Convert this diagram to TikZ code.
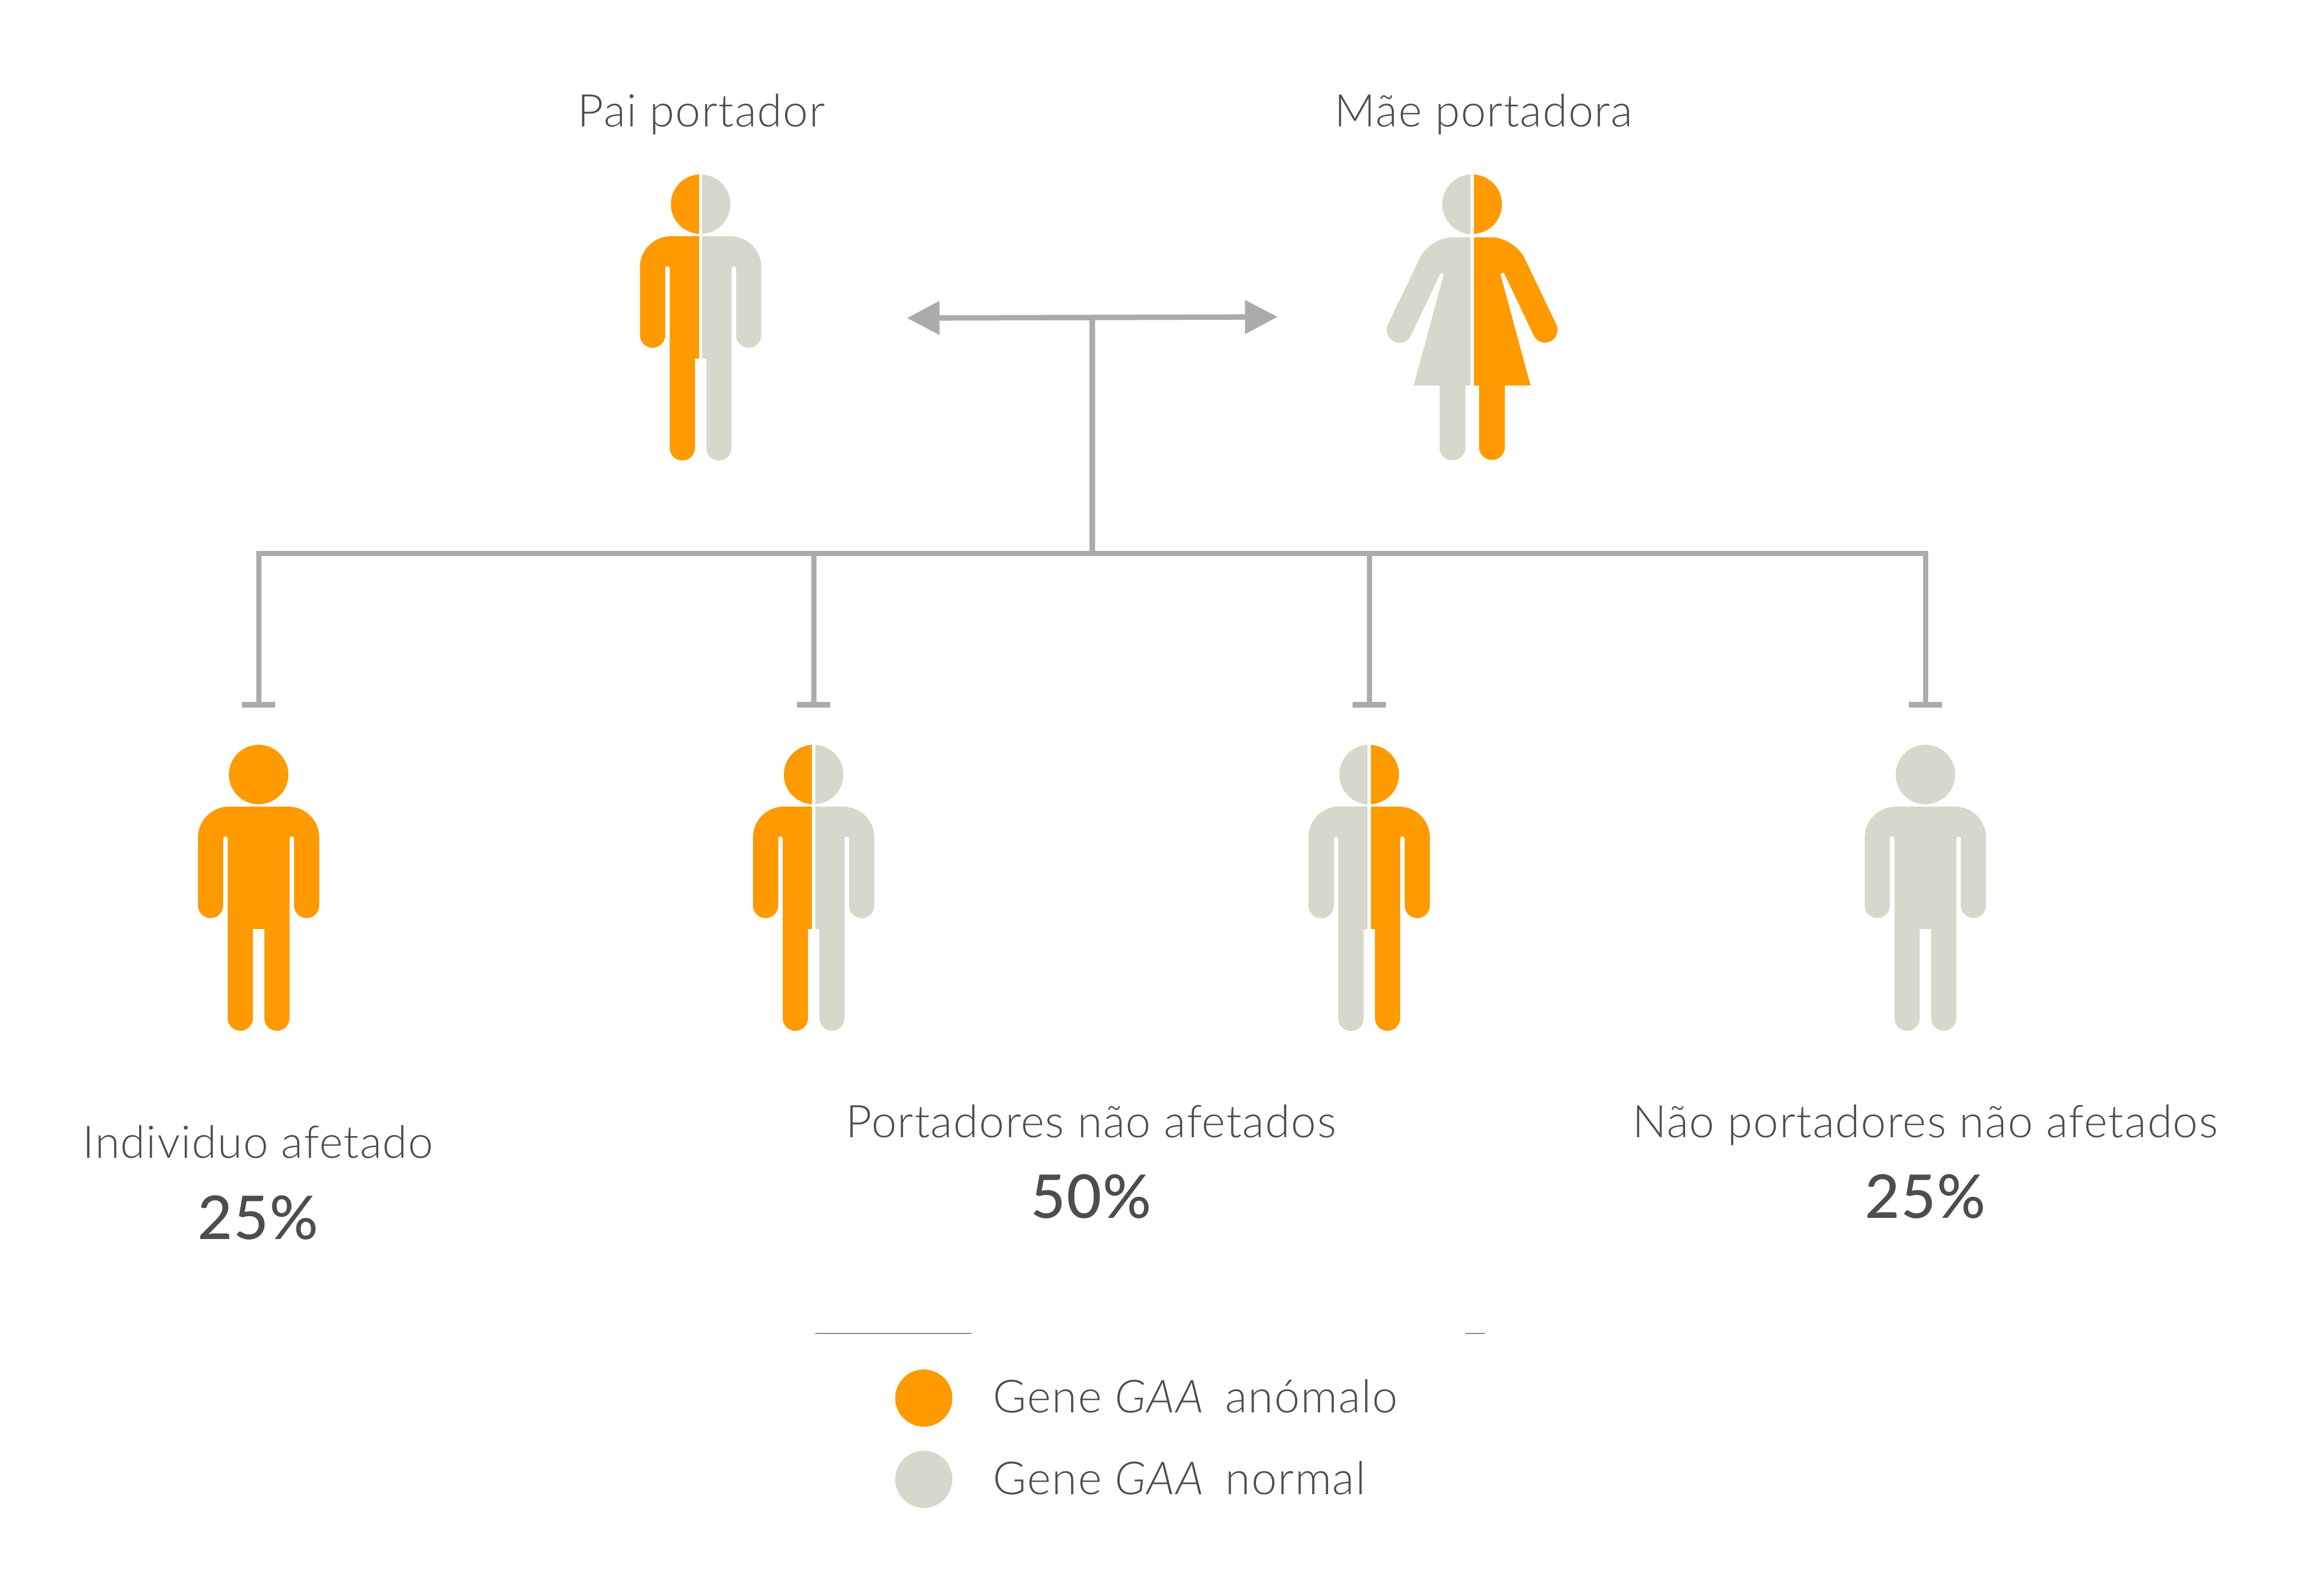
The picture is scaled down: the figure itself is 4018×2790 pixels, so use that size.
\documentclass[tikz,border=0pt]{standalone}
\usepackage{fontspec}
\setmainfont{Lato}[UprightFont=* Light,ItalicFont=* Light Italic,BoldFont=* Medium,LetterSpace=2]
\usetikzlibrary{arrows.meta,calc}

\definecolor{laranja}{HTML}{FF9A00}
\definecolor{bege}{HTML}{D8D7CC}
\definecolor{traco}{HTML}{ABABAB}
\definecolor{texto}{HTML}{4D4D4D}

\newcommand\manpath{(0,52) circle[radius=52]
	(0,108) [rounded corners=5.4mm] -- (106,108) [rounded corners=2.2mm] -- (106,303) -- (62,303) [rounded corners=.4mm] -- (62,160) -- (54,160) [rounded corners=2.2mm] -- (54,500) -- (10,500) [sharp corners] -- (10,322) -- (-10,322) [rounded corners=2.2mm] -- (-10,500) -- (-54,500) [rounded corners=.4mm] -- (-54,160) -- (-62,160) [rounded corners=2.2mm] -- (-62,303) -- (-106,303) [rounded corners=5.4mm] -- (-106,108) [sharp corners] -- (0,108) -- cycle}
\newcommand\womanpath{(0,52) circle[radius=52]
	(0,110) [rounded corners=4mm] -- (74,110) [rounded corners=2.2mm] -- (156.5,282) -- (117,301.5) [rounded corners=.3mm] -- (55,171) -- (49,173) [sharp corners] -- (102,369) -- (57,369) [rounded corners=2.2mm] -- (57,499) -- (12,499) [sharp corners] -- (12,369) -- (-12,369) [rounded corners=2.2mm] -- (-12,499) -- (-57,499) [sharp corners] -- (-57,369) -- (-102,369) [rounded corners=.3mm] -- (-49,173) -- (-55,171) [rounded corners=2.2mm] -- (-117,301.5) -- (-156.5,282) [rounded corners=4mm] -- (-74,110) [sharp corners] -- (0,110) -- cycle}
\newcommand\halves[4]{
	\fill[#3] #1;
	\begin{scope}
		\clip (-200,-10) rectangle (0,510);
		\fill[#2] #1;
	\end{scope}
	\draw[white,line width=.55mm] (0,-2) -- (0,#4);
}

\tikzset{
	pics/man/.style={code={\fill[#1] \manpath;}},
	pics/splitman/.style 2 args={code={\halves{\manpath}{#1}{#2}{325}}},
	pics/splitwoman/.style 2 args={code={\halves{\womanpath}{#1}{#2}{372}}},
	link/.style={draw=traco,line width=.95mm},
	stem/.style={draw=traco,line width=.9mm,-{Bar[width=5.8mm,line width=1mm]}},
	lbl/.style={text=texto,inner sep=0pt,anchor=base,font=\fontsize{22.4}{26}\selectfont},
	pct/.style={text=texto,inner sep=0pt,anchor=base,font=\fontsize{30}{34}\selectfont\bfseries},
	leg/.style={text=texto,inner sep=0pt,anchor=base west,font=\fontsize{22.7}{26}\selectfont}
}

\begin{document}
\begin{tikzpicture}[x=.1mm,y=-.1mm]
	\useasboundingbox (0,0) rectangle (4018,2790);

	\coordinate (pai) at (1224.5,305);
	\coordinate (mae) at (2573,305);
	\coordinate (f1) at (452,1302);
	\coordinate (f2) at (1422,1302);
	\coordinate (f3) at (2393,1302);
	\coordinate (f4) at (3365,1302);
	\coordinate (tipl) at (1585,556);
	\coordinate (tipr) at (2233,554);
	\coordinate (top) at (1909,555);
	\coordinate (bus) at (1909,968);

	\pic at (pai) {splitman={laranja}{bege}};
	\pic at (mae) {splitwoman={bege}{laranja}};
	\pic at (f1) {man=laranja};
	\pic at (f2) {splitman={laranja}{bege}};
	\pic at (f3) {splitman={bege}{laranja}};
	\pic at (f4) {man=bege};

	\draw[link,{Triangle[width=5.7mm,length=5.7mm]}-{Triangle[width=5.7mm,length=5.7mm]}] (tipl) -- (tipr);
	\draw[link] (top) -- (bus);
	\draw[stem] (bus) -| ($(f1)+(0,-65)$);
	\draw[stem] (bus) -| ($(f2)+(0,-65)$);
	\draw[stem] (bus) -| ($(f3)+(0,-65)$);
	\draw[stem] (bus) -| ($(f4)+(0,-65)$);

	\node[lbl] (tpai) at (1226,222) {Pai portador};
	\node[lbl] (tmae) at (2593,222) {Mãe portadora};
	\node[lbl] (t1) at (451,2024) {Individuo afetado};
	\node[pct] (p1) at (451,2166) {25\%};
	\node[lbl] (t2) at (1907,1988) {Portadores não afetados};
	\node[pct] (p2) at (1907,2129) {50\%};
	\node[lbl] (t3) at (3365,1988) {Não portadores não afetados};
	\node[pct] (p3) at (3365,2129) {25\%};

	\draw[traco!80!black,line width=.2mm] (1425,2331) -- (1698,2331);
	\draw[traco!80!black,line width=.2mm] (2561,2331) -- (2595,2331);
	\fill[laranja] (1614.5,2444) circle[radius=50];
	\fill[bege] (1614.5,2586) circle[radius=50];
	\node[leg] (l1) at (1735,2469) {Gene \textit{GAA}\, anómalo};
	\node[leg] (l2) at (1735,2612) {Gene \textit{GAA}\, normal};
\end{tikzpicture}
\end{document}
